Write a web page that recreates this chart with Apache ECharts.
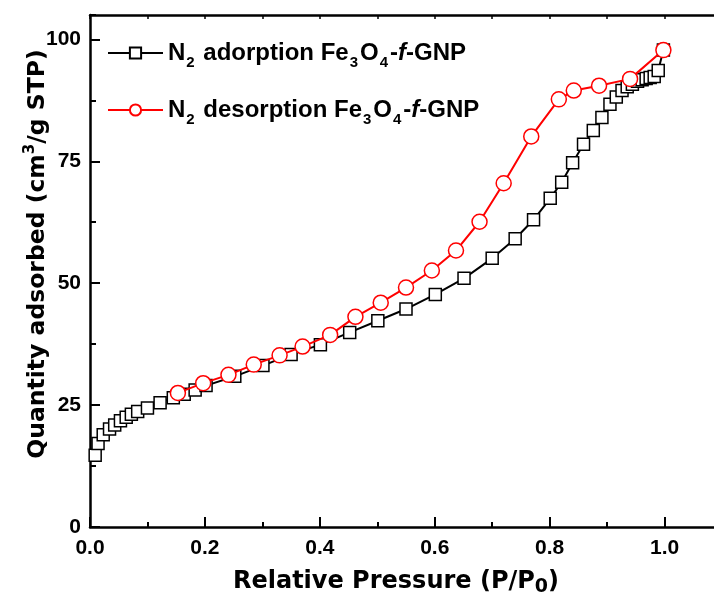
<!DOCTYPE html>
<html>
<head>
<meta charset="utf-8">
<script src="https://cdn.jsdelivr.net/npm/echarts@6/dist/echarts.min.js"></script>
<style>
  html, body { margin: 0; padding: 0; background: #fff; }
  #main { width: 714px; height: 597px; }
</style>
</head>
<body>
<div id="main"></div>
<script>
// N2 adsorption branch (relative pressure, quantity adsorbed)
var adsP = [0.009, 0.014, 0.023, 0.034, 0.043, 0.053, 0.063, 0.072, 0.083, 0.100,
            0.122, 0.145, 0.164, 0.183, 0.202, 0.252, 0.301, 0.350, 0.401, 0.452,
            0.501, 0.550, 0.601, 0.651, 0.700, 0.740, 0.772, 0.801, 0.821, 0.840,
            0.859, 0.876, 0.891, 0.905, 0.916, 0.926, 0.935, 0.944, 0.953, 0.961,
            0.968, 0.975, 0.982, 0.989, 0.998];
var adsQ = [14.7, 17.1, 18.9, 20.1, 20.9, 21.8, 22.5, 23.1, 23.7, 24.4,
            25.5, 26.5, 27.2, 28.1, 29.0, 30.9, 33.1, 35.4, 37.4, 39.9,
            42.3, 44.7, 47.7, 51.0, 55.1, 59.1, 63.0, 67.4, 70.7, 74.7,
            78.5, 81.3, 84.0, 86.7, 88.2, 89.5, 90.3, 90.8, 91.4, 91.7,
            92.0, 92.2, 92.4, 93.6, 97.8];

// N2 desorption branch
var desP = [0.153, 0.197, 0.241, 0.285, 0.330, 0.370, 0.418, 0.462, 0.506, 0.550,
            0.595, 0.637, 0.678, 0.720, 0.768, 0.816, 0.842, 0.886, 0.940, 0.998];
var desQ = [27.5, 29.5, 31.2, 33.3, 35.2, 37.0, 39.4, 43.1, 46.0, 49.1,
            52.6, 56.7, 62.6, 70.5, 80.1, 87.7, 89.5, 90.5, 91.9, 97.8];

var xLabelTicks = [0, 0.2, 0.4, 0.6, 0.8, 1.0];
var yLabelTicks = [0, 25, 50, 75, 100];

function pairs(xs, ys) {
    return xs.map(function (x, i) { return [x, ys[i]]; });
}

var labelFont = 'Liberation Sans';
var titleFont = 'DejaVu Sans';

var legendRich = {
    t: { fontFamily: labelFont, fontWeight: 'bold', fontSize: 24, color: '#000', lineHeight: 34, verticalAlign: 'middle' },
    i: { fontFamily: labelFont, fontWeight: 'bold', fontStyle: 'italic', fontSize: 24, color: '#000', lineHeight: 34, verticalAlign: 'middle' },
    s: { fontFamily: labelFont, fontWeight: 'bold', fontSize: 15, color: '#000', lineHeight: 4, verticalAlign: 'bottom', padding: [0, 2, 0, 1] }
};

var legendText = {
    ads: '{t|N}{s|2}{t| adorption Fe}{s|3}{t|O}{s|4}{t|-}{i|f}{t|-GNP}',
    des: '{t|N}{s|2}{t| desorption Fe}{s|3}{t|O}{s|4}{t|-}{i|f}{t|-GNP}'
};

var yTitle = '{t|Quantity adsorbed (cm}{sup|3}{t|/g STP)}';

var axisLineStyle = { color: '#000', width: 2.5 };

var option = {
    animation: false,
    backgroundColor: '#fff',
    grid: { left: 90, right: -8, top: 15, bottom: 70, outerBoundsMode: 'none', containLabel: false },
    legend: {
        orient: 'vertical',
        left: 102,
        top: 36,
        itemWidth: 55,
        itemHeight: 14,
        itemGap: 28,
        data: ['ads', 'des'],
        formatter: function (name) { return legendText[name]; },
        textStyle: { rich: legendRich }
    },
    graphic: [{
        type: 'text',
        x: 38,
        y: 254,
        rotation: Math.PI / 2,
        style: {
            text: yTitle,
            align: 'center',
            verticalAlign: 'middle',
            fill: '#000',
            rich: {
                t: { fontFamily: titleFont, fontWeight: 'bold', fontSize: 23.5, fill: '#000', lineHeight: 30, verticalAlign: 'middle' },
                sup: { fontFamily: titleFont, fontWeight: 'bold', fontSize: 15, fill: '#000', lineHeight: 12, verticalAlign: 'top' }
            }
        }
    }],
    xAxis: [{
        type: 'value',
        min: 0,
        max: 1.1,
        interval: 0.2,
        position: 'bottom',
        name: '{t|Relative Pressure (P/P}{sub|0}{t|)}',
        nameLocation: 'middle',
        nameGap: 40,
        nameTextStyle: {
            fontFamily: titleFont, fontWeight: 'bold', fontSize: 24, color: '#000',
            padding: [0, 20, 0, 0],
            rich: {
                t: { fontFamily: titleFont, fontWeight: 'bold', fontSize: 24, color: '#000', lineHeight: 30, verticalAlign: 'middle' },
                sub: { fontFamily: titleFont, fontWeight: 'bold', fontSize: 19, color: '#000', lineHeight: 16, verticalAlign: 'bottom' }
            }
        },
        axisLine: { lineStyle: axisLineStyle },
        axisTick: { inside: true, length: 10, lineStyle: { color: '#000', width: 2 } },
        axisLabel: {
            margin: 11,
            showMaxLabel: false,
            fontFamily: labelFont, fontWeight: 'bold', fontSize: 21, color: '#000',
            formatter: function (v) {
                return xLabelTicks.some(function (t) { return Math.abs(t - v) < 1e-6; }) ? v.toFixed(1) : '';
            }
        },
        splitLine: { show: false }
    }, {
        type: 'value',
        min: 0,
        max: 1.1,
        interval: 0.1,
        position: 'bottom',
        axisLine: { show: false },
        axisTick: { inside: true, length: 5, lineStyle: { color: '#000', width: 2 } },
        axisLabel: { show: false },
        splitLine: { show: false }
    }, {
        type: 'value',
        min: 0,
        max: 1.1,
        interval: 0.1,
        position: 'top',
        axisLine: { lineStyle: axisLineStyle },
        axisTick: { inside: true, length: 4, lineStyle: { color: '#000', width: 1.5 } },
        axisLabel: { show: false },
        splitLine: { show: false }
    }],
    yAxis: [{
        type: 'value',
        min: 0,
        max: 105,
        interval: 25,
        position: 'left',
        axisLine: { lineStyle: axisLineStyle },
        axisTick: { inside: true, length: 10, lineStyle: { color: '#000', width: 2 } },
        axisLabel: {
            margin: 9,
            showMaxLabel: false,
            fontFamily: labelFont, fontWeight: 'bold', fontSize: 21, color: '#000',
            formatter: function (v) {
                return yLabelTicks.indexOf(v) >= 0 ? String(v) : '';
            }
        },
        splitLine: { show: false }
    }, {
        type: 'value',
        min: 0,
        max: 105,
        interval: 12.5,
        position: 'left',
        axisLine: { show: false },
        axisTick: { inside: true, length: 6, lineStyle: { color: '#000', width: 2 } },
        axisLabel: { show: false },
        splitLine: { show: false }
    }],
    series: [{
        name: 'ads',
        type: 'line',
        data: pairs(adsP, adsQ),
        symbol: 'rect',
        symbolSize: 12,
        lineStyle: { color: '#000', width: 2 },
        itemStyle: { color: '#fff', borderColor: '#000', borderWidth: 1.5 },
        z: 2
    }, {
        name: 'des',
        type: 'line',
        data: pairs(desP, desQ),
        symbol: 'circle',
        symbolSize: 15,
        lineStyle: { color: '#ff0000', width: 2 },
        itemStyle: { color: '#fff', borderColor: '#ff0000', borderWidth: 1.5 },
        z: 3
    }]
};

var chart = echarts.init(document.getElementById('main'), null, { renderer: 'canvas' });
chart.setOption(option);
</script>
</body>
</html>
